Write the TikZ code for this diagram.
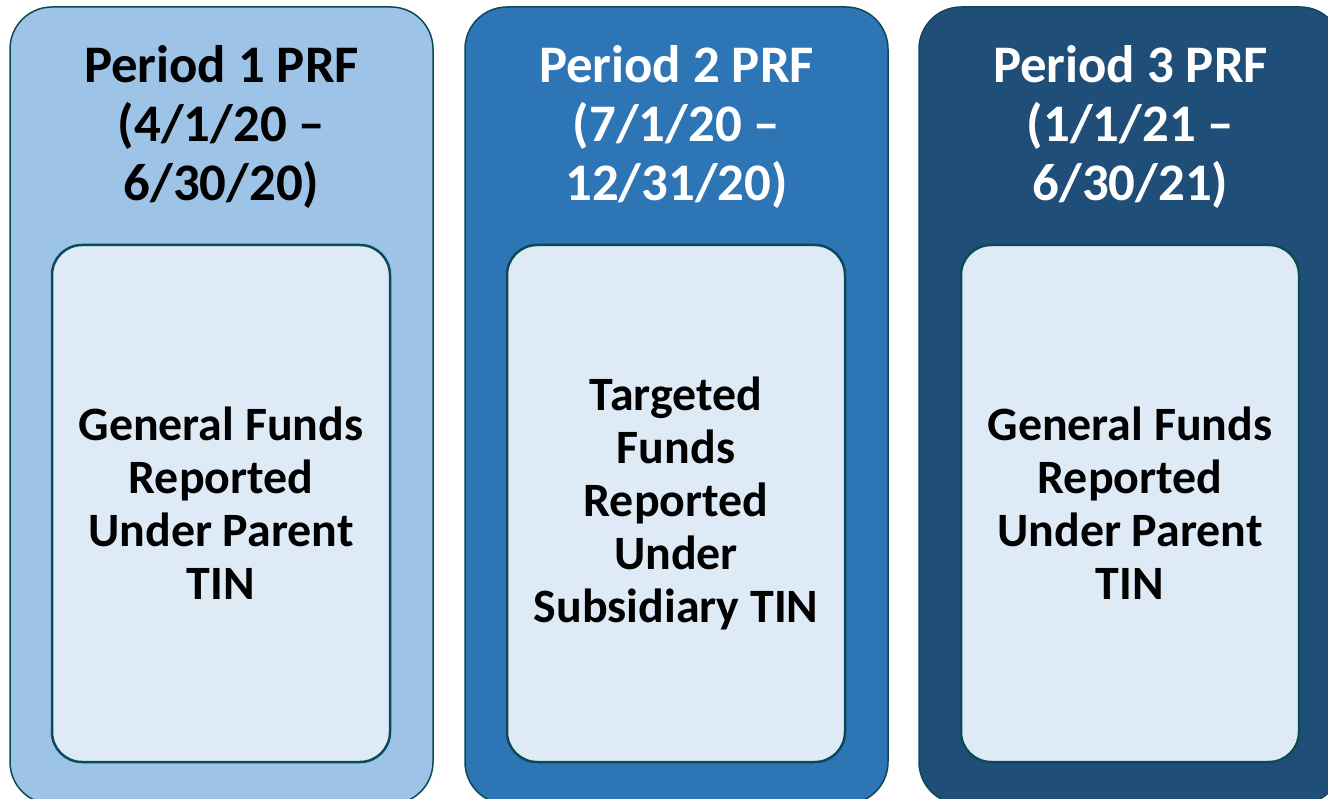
\documentclass[tikz,border=0pt]{standalone}
\usepackage{fontspec}
\setmainfont{Carlito}
\definecolor{stroke}{HTML}{0C4A5A}
\definecolor{p1}{HTML}{9DC3E6}
\definecolor{p2}{HTML}{2E75B6}
\definecolor{p3}{HTML}{1F4E79}
\definecolor{inner}{HTML}{DEEBF7}
\tikzset{
  outerbox/.style={draw=stroke, line width=1.5pt, rounded corners=42pt, minimum width=423pt, minimum height=797pt, inner sep=0pt},
  innerbox/.style={draw=stroke, fill=inner, line width=2.5pt, rounded corners=30pt, minimum width=338pt, minimum height=517pt, inner sep=0pt},
  titletext/.style={align=center, font=\fontsize{52.8}{59}\selectfont\bfseries, inner sep=0pt},
  bodytext/.style={align=center, font=\fontsize{47.9}{53}\selectfont\bfseries, inner sep=0pt, text=black}
}
\begin{document}
\begin{tikzpicture}[x=1pt,y=-1pt]
\useasboundingbox (0,0) rectangle (1328,799);
\clip (0,0) rectangle (1328,799);
\node[outerbox, fill=p1] (o1) at (221.5,405.5) {};
\node[outerbox, fill=p2] (o2) at (676.5,405.5) {};
\node[outerbox, fill=p3] (o3) at (1130.5,405.5) {};
\node[innerbox] (i1) at (221,503.5) {};
\node[innerbox] (i2) at (676,503.5) {};
\node[innerbox] (i3) at (1130,503.5) {};
\node[titletext, text=black] (t1) at (221.5,127) {Period 1 PRF\\(4/1/20 –\\6/30/20)};
\node[titletext, text=white] (t2) at (676.5,127) {Period 2 PRF\\(7/1/20 –\\12/31/20)};
\node[titletext, text=white] (t3) at (1130.5,127) {Period 3 PRF\\(1/1/21 –\\6/30/21)};
\node[bodytext] (b1) at (i1) {General Funds\\Reported\\Under Parent\\TIN};
\node[bodytext] (b2) at (i2) {Targeted\\Funds\\Reported\\Under\\Subsidiary TIN};
\node[bodytext] (b3) at (i3) {General Funds\\Reported\\Under Parent\\TIN};
\end{tikzpicture}
\end{document}
